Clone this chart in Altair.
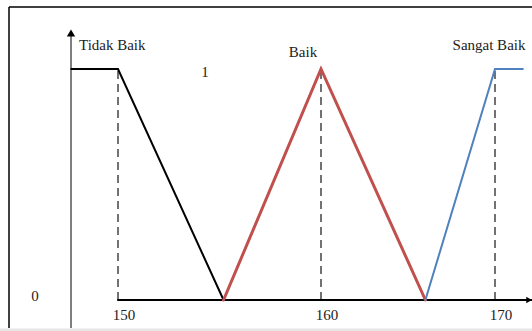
import altair as alt
import pandas as pd

# Membership functions (x = value, y = membership degree)
tidak_x = [147.7, 150, 155.2]
tidak_y = [1, 1, 0]
baik_x = [155.2, 160, 166]
baik_y = [0, 1, 0]
sangat_x = [166, 170, 171.6]
sangat_y = [0, 1, 1]

tick_values = [150, 160, 170]
tick_labels = ["150", "160", "170"]
baseline_x = [150, 173.5]

FONT = "Liberation Serif"

xs = alt.Scale(domain=[150, 160, 170], range=[118, 321, 495], nice=False, zero=False)
ys = alt.Scale(domain=[0, 1], range=[300, 69], nice=False, zero=False)

def series(xv, yv):
    return pd.DataFrame({"x": xv, "y": yv, "o": list(range(len(xv)))})

def line(df, color, w):
    return alt.Chart(df).mark_line(color=color, strokeWidth=w, strokeCap="round", strokeJoin="miter").encode(
        x=alt.X("x:Q", scale=xs, axis=None),
        y=alt.Y("y:Q", scale=ys, axis=None),
        order="o:Q",
    )

# frame
frame_top = alt.Chart(pd.DataFrame({"a": [0]})).mark_rule(color="#000", strokeWidth=1.5).encode(
    x=alt.value(9), x2=alt.value(532), y=alt.value(7))
frame_left = alt.Chart(pd.DataFrame({"a": [0]})).mark_rule(color="#000", strokeWidth=1.5).encode(
    x=alt.value(9), y=alt.value(7), y2=alt.value(328))
frame_bottom = alt.Chart(pd.DataFrame({"a": [0]})).mark_rule(color="#e6e6e6", strokeWidth=3).encode(
    x=alt.value(0), x2=alt.value(532), y=alt.value(330))

# y axis with arrow
yaxis = alt.Chart(pd.DataFrame({"a": [0]})).mark_rule(color="#000", strokeWidth=1).encode(
    x=alt.value(71), y=alt.value(34), y2=alt.value(328))
yarrow = alt.Chart(pd.DataFrame({"a": [0]})).mark_point(shape="triangle-up", filled=True, color="#000", size=70, opacity=1).encode(
    x=alt.value(71), y=alt.value(33))

# baseline (x axis) with arrow
base_df = pd.DataFrame({"x": baseline_x, "y": [0, 0], "o": [0, 1]})
baseline = line(base_df, "#000", 2)
xarrow = alt.Chart(pd.DataFrame({"a": [0]})).mark_point(shape="triangle-right", filled=True, color="#000", size=40, opacity=1).encode(
    x=alt.value(529), y=alt.value(300))

# dashed guides
dash_df = pd.DataFrame({"x": tick_values, "y0": [0] * 3, "y1": [1] * 3})
dashes = alt.Chart(dash_df).mark_rule(color="#444", strokeWidth=1.5, strokeDash=[8, 5]).encode(
    x=alt.X("x:Q", scale=xs, axis=None),
    y=alt.Y("y0:Q", scale=ys, axis=None),
    y2="y1:Q",
)

l_tidak = line(series(tidak_x, tidak_y), "#000000", 2)
l_baik = line(series(baik_x, baik_y), "#c0504d", 3)
l_sangat = line(series(sangat_x, sangat_y), "#4f81bd", 2)

# tick labels
tick_df = pd.DataFrame({"x": tick_values, "t": tick_labels})
ticks = alt.Chart(tick_df).mark_text(font=FONT, fontSize=15, color="#222", dx=6, baseline="middle").encode(
    x=alt.X("x:Q", scale=xs, axis=None),
    y=alt.value(315),
    text="t:N",
)

def label(txt, x, y, align="center"):
    return alt.Chart(pd.DataFrame({"t": [txt]})).mark_text(
        font=FONT, fontSize=15, color="#222", align=align, baseline="middle").encode(
        x=alt.value(x), y=alt.value(y), text="t:N")

labels = [
    label("Tidak Baik", 79, 45, "left"),
    label("Baik", 303, 52),
    label("Sangat Baik", 489, 45),
    label("1", 205, 72),
    label("0", 35, 296),
]

chart = alt.layer(
    frame_bottom, frame_top, frame_left, dashes, baseline, xarrow, yaxis, yarrow,
    l_tidak, l_baik, l_sangat, ticks, *labels
).properties(
    width=532, height=331, autosize=alt.AutoSizeParams(type="none"), padding=0,
    background="white",
).configure_view(stroke=None)

chart.save("out.html", embed_options={"renderer": "svg", "actions": False})
